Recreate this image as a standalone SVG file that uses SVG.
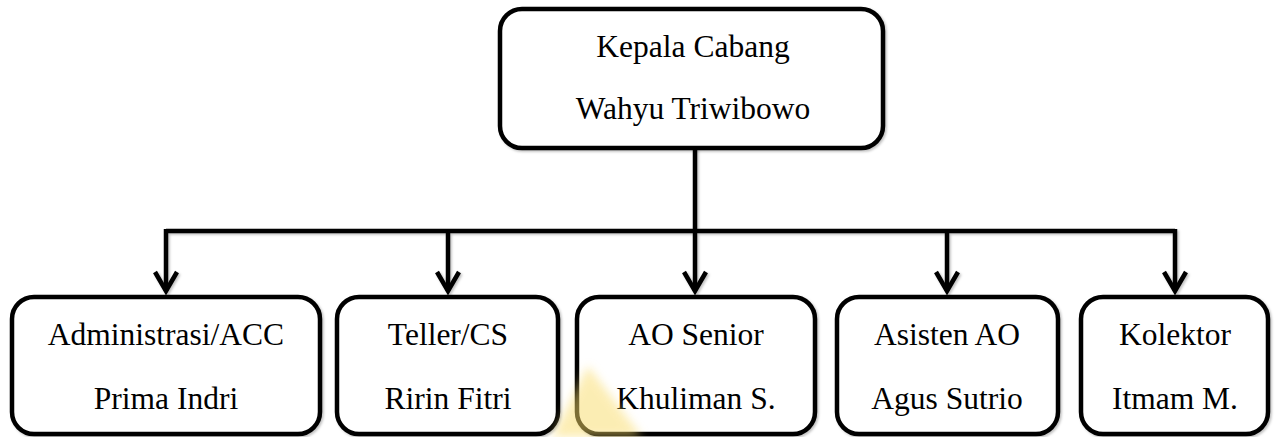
<svg xmlns="http://www.w3.org/2000/svg" width="1281" height="437" viewBox="0 0 1281 437">
  <style>
    .box { fill: #ffffff; stroke: #000000; stroke-width: 4.5; }
    .lbl { font-family: "Liberation Serif", "Times New Roman", serif; font-size: 31.5px; fill: #000000; text-anchor: middle; }
    .wire { fill: none; stroke: #000000; stroke-width: 4.5; stroke-linejoin: miter; }
  </style>
  <defs>
    <filter id="shadow" x="-5%" y="-5%" width="110%" height="110%">
      <feDropShadow dx="1.5" dy="1.5" stdDeviation="1" flood-color="#000" flood-opacity="0.25"/>
    </filter>
    <filter id="blur" x="-50%" y="-50%" width="200%" height="200%">
      <feGaussianBlur stdDeviation="5"/>
    </filter>
    <marker id="chev" markerUnits="userSpaceOnUse" markerWidth="40" markerHeight="40" refX="0" refY="0" orient="auto" overflow="visible">
      <path d="M -19 -11 L 0 0 L -19 11" fill="none" stroke="#000" stroke-width="4.5" stroke-linejoin="miter" stroke-linecap="butt"/>
    </marker>
  </defs>
  <rect width="1281" height="437" fill="#ffffff"/>

  <g id="connectors" filter="url(#shadow)">
    <path class="wire" d="M 695 148 L 695 231"/>
    <path class="wire" d="M 166 231 L 1175 231"/>
    <path class="wire" d="M 166 229 L 166 291" marker-end="url(#chev)"/>
    <path class="wire" d="M 448 231 L 448 291" marker-end="url(#chev)"/>
    <path class="wire" d="M 695 231 L 695 291" marker-end="url(#chev)"/>
    <path class="wire" d="M 947 231 L 947 291" marker-end="url(#chev)"/>
    <path class="wire" d="M 1175 229 L 1175 291" marker-end="url(#chev)"/>
  </g>

  <g id="kepala-cabang">
    <rect class="box" x="500" y="9" width="383" height="139" rx="22" filter="url(#shadow)"/>
    <text class="lbl" x="693" y="57">Kepala Cabang</text>
    <text class="lbl" x="693" y="119">Wahyu Triwibowo</text>
  </g>

  <g id="administrasi">
    <rect class="box" x="12" y="297" width="308" height="137" rx="22" filter="url(#shadow)"/>
    <text class="lbl" x="166" y="345">Administrasi/ACC</text>
    <text class="lbl" x="166" y="409">Prima Indri</text>
  </g>

  <g id="teller">
    <rect class="box" x="337" y="297" width="221" height="137" rx="22" filter="url(#shadow)"/>
    <text class="lbl" x="448" y="345">Teller/CS</text>
    <text class="lbl" x="448" y="409">Ririn Fitri</text>
  </g>

  <g id="ao-senior">
    <rect class="box" x="577" y="297" width="238" height="137" rx="22" filter="url(#shadow)"/>
    <text class="lbl" x="696" y="345">AO Senior</text>
    <text class="lbl" x="696" y="409">Khuliman S.</text>
  </g>

  <g id="asisten-ao">
    <rect class="box" x="837" y="297" width="221" height="137" rx="22" filter="url(#shadow)"/>
    <text class="lbl" x="947" y="345">Asisten AO</text>
    <text class="lbl" x="947" y="409">Agus Sutrio</text>
  </g>

  <g id="kolektor">
    <rect class="box" x="1081" y="297" width="187" height="137" rx="22" filter="url(#shadow)"/>
    <text class="lbl" x="1175" y="345">Kolektor</text>
    <text class="lbl" x="1175" y="409">Itmam M.</text>
  </g>

  <polygon points="588,366 642,437 552,437" fill="#f9dc6a" opacity="0.5" filter="url(#blur)"/>
</svg>
